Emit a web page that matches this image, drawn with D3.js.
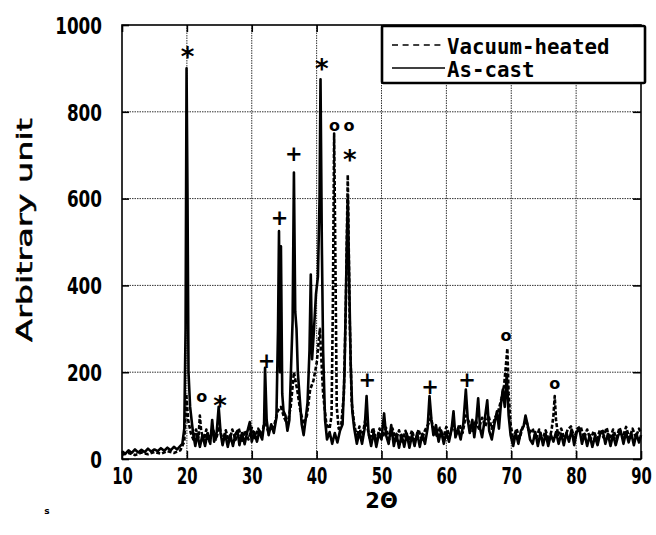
<!DOCTYPE html>
<html>
<head>
<meta charset="utf-8">
<script src="https://cdn.jsdelivr.net/npm/d3@7"></script>
<style>
body{margin:0;background:#fff;}
svg{display:block;}
</style>
</head>
<body>
<div id="container"></div>
<script>
// 2theta / intensity pairs
const asCast = [
 [10,18],[10.5,12],[11,20],[11.5,14],[12,22],[12.5,15],[13,21],[13.5,16],[14,24],[14.5,17],
 [15,22],[15.5,18],[16,25],[16.5,19],[17,26],[17.5,20],[18,28],[18.5,22],[19,30],[19.3,35],
 [19.6,70],[19.8,300],[19.95,900],[20.1,600],[20.25,200],[20.5,120],[20.8,80],[21,55],[21.3,30],[21.6,58],
 [22,28],[22.4,55],[22.8,30],[23.2,60],[23.6,35],[23.9,90],[24.2,40],[24.6,62],[24.9,120],[25.2,60],
 [25.5,32],[25.9,58],[26.3,28],[26.7,55],[27.1,30],[27.5,58],[27.8,65],[28.1,32],[28.5,60],[28.9,34],
 [29.3,62],[29.7,85],[30,40],[30.4,62],[30.8,40],[31.2,65],[31.6,45],[31.9,80],[32.05,210],[32.3,90],
 [32.6,55],[33,80],[33.4,60],[33.8,95],[34.05,300],[34.2,525],[34.35,200],[34.5,490],[34.7,150],[34.9,110],
 [35.2,100],[35.5,65],[35.8,90],[36.1,230],[36.3,320],[36.5,660],[36.7,340],[36.9,300],[37.1,200],[37.4,140],
 [37.7,80],[38,55],[38.3,90],[38.6,130],[38.9,250],[39.1,425],[39.3,230],[39.6,300],[39.9,380],[40.2,420],
 [40.45,600],[40.6,875],[40.8,500],[41,250],[41.3,90],[41.6,45],[42,62],[42.4,35],[42.8,60],[43.2,38],
 [43.6,65],[44,80],[44.3,200],[44.6,450],[44.8,600],[45,430],[45.25,220],[45.5,110],[45.8,70],[46.2,35],
 [46.6,62],[47,35],[47.4,70],[47.7,145],[48,60],[48.4,30],[48.8,62],[49.2,28],[49.6,58],[50,45],
 [50.4,105],[50.7,55],[51.1,35],[51.5,78],[51.9,30],[52.3,58],[52.7,26],[53.1,56],[53.5,28],[53.9,58],
 [54.3,26],[54.7,55],[55.1,30],[55.5,60],[55.9,28],[56.3,58],[56.7,35],[57.1,70],[57.4,145],[57.7,90],
 [58,55],[58.4,78],[58.8,40],[59.2,65],[59.6,35],[60,62],[60.4,40],[60.8,68],[61.1,110],[61.4,50],
 [61.8,70],[62.2,45],[62.6,80],[63,160],[63.3,90],[63.6,60],[64,90],[64.3,50],[64.6,85],[64.9,140],
 [65.2,70],[65.5,50],[65.9,90],[66.3,135],[66.6,65],[67,45],[67.4,80],[67.8,110],[68.1,70],[68.4,125],
 [68.7,160],[69,120],[69.3,195],[69.6,100],[69.9,55],[70.3,30],[70.7,60],[71.1,35],[71.5,65],[71.9,75],
 [72.2,100],[72.5,80],[72.9,45],[73.3,35],[73.7,62],[74.1,30],[74.5,60],[74.9,32],[75.3,58],[75.7,30],
 [76.1,56],[76.5,40],[76.9,62],[77.3,35],[77.7,58],[78.1,32],[78.5,60],[78.9,40],[79.3,68],[79.7,32],
 [80.1,62],[80.5,70],[80.9,35],[81.3,58],[81.7,30],[82.1,55],[82.5,28],[82.9,52],[83.3,32],[83.7,58],
 [84.1,65],[84.5,35],[84.9,58],[85.3,30],[85.7,56],[86.1,32],[86.5,55],[86.9,62],[87.3,35],[87.7,62],
 [88.1,38],[88.5,60],[88.9,32],[89.3,58],[89.7,38],[90,55]
];

const vacuumHeated = [
 [10,10],[11,14],[12,9],[13,15],[14,11],[15,16],[16,12],[17,18],[18,14],[19,20],
 [19.6,40],[19.9,150],[20.2,90],[20.6,60],[21,45],[21.4,68],[21.8,50],[22,100],[22.2,65],[22.6,42],
 [23,68],[23.5,40],[24,70],[24.5,45],[25,75],[25.5,42],[26,66],[26.5,40],[27,68],[27.5,44],
 [28,70],[28.5,42],[29,66],[29.5,45],[30,72],[30.5,48],[31,70],[31.5,50],[32,90],[32.5,65],
 [33,70],[33.5,80],[34,110],[34.5,120],[35,95],[35.5,80],[36,120],[36.5,200],[37,160],[37.5,110],
 [38,80],[38.5,100],[39,160],[39.5,180],[40,220],[40.5,300],[41,150],[41.5,80],[42,70],[42.3,100],
 [42.5,350],[42.7,750],[42.9,450],[43.1,120],[43.4,70],[43.8,80],[44.2,150],[44.5,350],[44.8,655],[45.1,320],
 [45.4,130],[45.8,80],[46.2,50],[46.6,75],[47,48],[47.5,90],[47.8,75],[48.2,45],[48.7,72],[49.2,42],
 [49.7,70],[50.2,50],[50.7,72],[51.2,45],[51.7,70],[52.2,42],[52.7,66],[53.2,40],[53.7,65],[54.2,42],
 [54.7,66],[55.2,40],[55.7,68],[56.2,44],[56.7,66],[57.2,80],[57.6,95],[58,70],[58.5,50],[59,72],
 [59.5,48],[60,74],[60.5,52],[61,80],[61.5,56],[62,80],[62.5,60],[63,100],[63.5,85],[64,65],
 [64.5,90],[65,70],[65.5,95],[66,75],[66.5,100],[67,70],[67.5,95],[68,110],[68.5,140],[68.9,170],
 [69.2,220],[69.4,255],[69.6,150],[69.9,80],[70.3,45],[70.8,70],[71.3,48],[71.8,75],[72.3,90],[72.8,60],
 [73.3,70],[73.8,45],[74.3,68],[74.8,44],[75.3,66],[75.8,42],[76.2,65],[76.5,100],[76.7,145],[76.9,90],
 [77.2,55],[77.7,70],[78.2,46],[78.7,68],[79.2,75],[79.7,48],[80.2,70],[80.7,75],[81.2,48],[81.7,68],
 [82.2,44],[82.7,64],[83.2,46],[83.7,68],[84.2,50],[84.7,72],[85.2,46],[85.7,68],[86.2,48],[86.7,72],
 [87.2,50],[87.7,74],[88.2,48],[88.7,70],[89.2,50],[89.7,70],[90,60]
];

// phase marks: symbol, 2theta, height
const peakMarks = [
 ["*",20.1,945],["o",22.3,140],["*",25.1,140],["+",32.3,226],["+",34.3,555],["+",36.5,702],
 ["*",40.8,917],["o",42.75,765],["o",45.0,765],["*",45.1,708],["+",47.8,182],["+",57.5,166],
 ["+",63.2,182],["o",69.2,281],["o",76.7,170]
];

const xTicks = [10,20,30,40,50,60,70,80,90];
const yTicks = [0,200,400,600,800,1000];
const seriesNames = ["Vacuum-heated","As-cast"];

const width = 656, height = 535;
const plotLeft = 122, plotRight = 641, plotTop = 25, plotBottom = 459;
const font = "'DejaVu Sans', 'Liberation Sans', sans-serif";

const x = d3.scaleLinear().domain([10,90]).range([plotLeft,plotRight]);
const y = d3.scaleLinear().domain([0,1000]).range([plotBottom,plotTop]);

const svg = d3.select("#container").append("svg")
  .attr("width",width).attr("height",height);

// grid
svg.append("g").selectAll("line").data(xTicks.slice(1,-1)).enter().append("line")
  .attr("x1",d=>x(d)).attr("x2",d=>x(d)).attr("y1",plotTop).attr("y2",plotBottom)
  .attr("stroke","#333").attr("stroke-width",1).attr("stroke-dasharray","1.5,1");
svg.append("g").selectAll("line").data(yTicks.slice(1,-1)).enter().append("line")
  .attr("x1",plotLeft).attr("x2",plotRight).attr("y1",d=>y(d)).attr("y2",d=>y(d))
  .attr("stroke","#333").attr("stroke-width",1).attr("stroke-dasharray","1.5,1");

// inner ticks on all four sides
const tickStyle = g => { g.select(".domain").remove(); g.selectAll("text").remove();
  g.selectAll("line").attr("stroke","#000").attr("stroke-width",1.6); };
svg.append("g").attr("transform",`translate(0,${plotBottom})`).call(d3.axisBottom(x).tickValues(xTicks).tickSize(-8)).call(tickStyle);
svg.append("g").attr("transform",`translate(0,${plotTop})`).call(d3.axisTop(x).tickValues(xTicks).tickSize(-7)).call(tickStyle);
svg.append("g").attr("transform",`translate(${plotLeft},0)`).call(d3.axisLeft(y).tickValues(yTicks).tickSize(-7)).call(tickStyle);
svg.append("g").attr("transform",`translate(${plotRight},0)`).call(d3.axisRight(y).tickValues(yTicks).tickSize(-8)).call(tickStyle);

// series
const line = d3.line().x(d=>x(d[0])).y(d=>y(d[1]));
svg.append("path").datum(vacuumHeated)
  .attr("d",line).attr("fill","none").attr("stroke","#000")
  .attr("stroke-width",2.6).attr("stroke-dasharray","4,2").attr("stroke-linejoin","round");
svg.append("path").datum(asCast)
  .attr("d",line).attr("fill","none").attr("stroke","#000")
  .attr("stroke-width",2.6).attr("stroke-linejoin","round");

// frame
svg.append("rect").attr("x",plotLeft).attr("y",plotTop).attr("width",plotRight-plotLeft).attr("height",plotBottom-plotTop)
  .attr("fill","none").attr("stroke","#000").attr("stroke-width",1.6);

// tick labels
const yAxis = svg.append("g").attr("transform",`translate(${plotLeft},0)`)
  .call(d3.axisLeft(y).tickValues(yTicks).tickSize(0).tickPadding(20).tickFormat(d3.format("d")));
yAxis.select(".domain").remove();
yAxis.selectAll("text").attr("font-family",font).attr("font-size",23).attr("font-weight","bold")
  .attr("fill","#000").attr("dy","0.36em")
  .attr("textLength",d=>String(d).length*11.7).attr("lengthAdjust","spacingAndGlyphs");

const xAxis = svg.append("g").attr("transform",`translate(0,${plotBottom})`)
  .call(d3.axisBottom(x).tickValues(xTicks).tickSize(0).tickPadding(9).tickFormat(d3.format("d")));
xAxis.select(".domain").remove();
xAxis.selectAll("text").attr("font-family",font).attr("font-size",23).attr("font-weight","bold")
  .attr("fill","#000")
  .attr("textLength",d=>String(d).length*10.3).attr("lengthAdjust","spacingAndGlyphs");

// peak marks
svg.append("g").selectAll("text").data(peakMarks).enter().append("text")
  .attr("x",d=>x(d[1])).attr("y",d=>y(d[2]))
  .attr("text-anchor","middle").attr("dominant-baseline","central")
  .attr("font-family",font).attr("font-weight","bold")
  .attr("font-size",d=>d[0]==="o"?16:(d[0]==="*"?26:21))
  .attr("dy",d=>d[0]==="*"?"0.3em":(d[0]==="o"?"-0.1em":"0"))
  .text(d=>d[0]);

// axis titles
svg.append("text").attr("transform","translate(32,230) rotate(-90)")
  .attr("text-anchor","middle").attr("font-family",font).attr("font-size",21)
  .attr("stroke","#000").attr("stroke-width",0.5)
  .attr("textLength",224).attr("lengthAdjust","spacingAndGlyphs")
  .text("Arbitrary unit");
svg.append("text").attr("x",(plotLeft+plotRight)/2).attr("y",508)
  .attr("text-anchor","middle").attr("font-family",font).attr("font-size",21).attr("font-weight","bold")
  .text("2\u0398");
svg.append("text").attr("x",47).attr("y",514).attr("text-anchor","middle")
  .attr("font-family",font).attr("font-size",9).attr("font-weight","bold").text("s");

// legend
const lg = svg.append("g");
lg.append("rect").attr("x",382).attr("y",26).attr("width",263).attr("height",57)
  .attr("fill","#fff").attr("stroke","#000").attr("stroke-width",2.6).attr("rx",1.5);
const mono = "'DejaVu Sans Mono', 'Liberation Mono', monospace";
seriesNames.forEach((name,i)=>{
  const ly = 45 + i*23;
  lg.append("line").attr("x1",392).attr("x2",445).attr("y1",ly).attr("y2",ly)
    .attr("stroke","#000").attr("stroke-width",1.6)
    .attr("stroke-dasharray",i===0?"6,4.6":null);
  lg.append("text").attr("x",447).attr("y",ly+9)
    .attr("font-family",mono).attr("font-size",22).attr("font-weight","bold")
    .attr("textLength",name.length*12.5).attr("lengthAdjust","spacingAndGlyphs")
    .text(name);
});
</script>
</body>
</html>
